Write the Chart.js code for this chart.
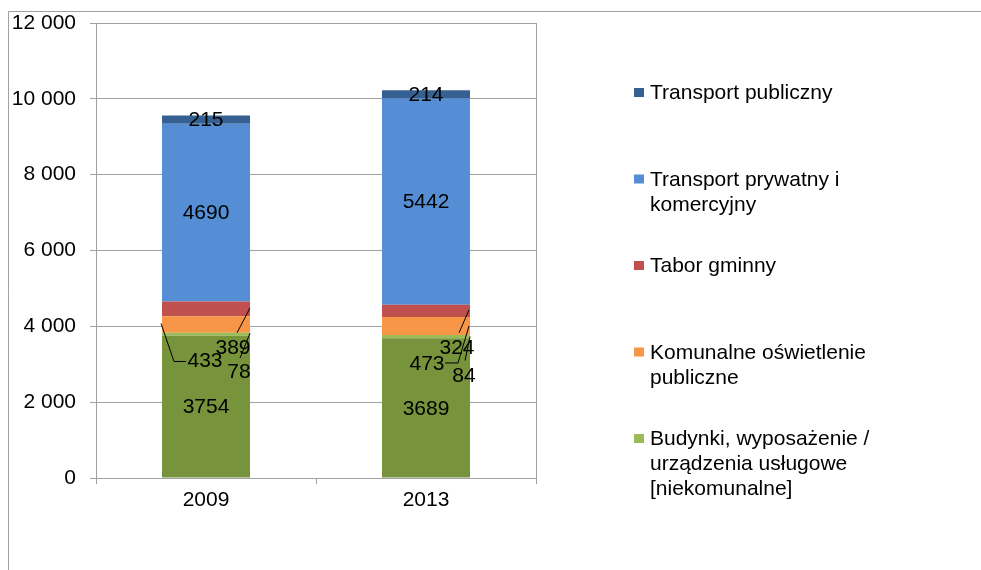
<!DOCTYPE html>
<html>
<head>
<meta charset="utf-8">
<script src="https://cdn.jsdelivr.net/npm/chart.js@4/dist/chart.umd.min.js"></script>
<style>
  html, body { margin: 0; padding: 0; background: #fff; }
  #wrap { width: 981px; height: 570px; position: relative; }
</style>
</head>
<body>
<div id="wrap"><canvas id="chartCanvas" width="981" height="570"></canvas></div>
<script>
const years = ["2009", "2013"];
const budynkiKomunalne = [3754, 3689];
const budynki = [78, 84];
const oswietlenie = [433, 473];
const tabor = [389, 324];
const transportPrywatny = [4690, 5442];
const transportPubliczny = [215, 214];
const yTicks = [0, 2000, 4000, 6000, 8000, 10000, 12000];

const FONT = "'Liberation Sans', Arial, sans-serif";

// label offsets for the thin segments (pixels from bar centre / segment middle)
const labelPlacement = {
    1: { 0: { dx: 33, dy: 38, line: [[44, -1], [34, 24]] },
         1: { dx: 38, dy: 40, line: [[44, 0], [39, 24]] } },
    2: { 0: { dx: -1, dy: 37, line: [[-45, -1], [-32, 37], [-20, 37]] },
         1: { dx: 1, dy: 38, line: [[43, 0], [32, 37], [19, 37]] } },
    3: { 0: { dx: 27, dy: 39, line: [[44, -1], [31, 24]] },
         1: { dx: 31, dy: 37, line: [[43, -1], [33, 22]] } }
};

// legend text, top to bottom, with dataset index
const legendItems = [
    { ds: 5, lines: ["Transport publiczny"] },
    { ds: 4, lines: ["Transport prywatny i", "komercyjny"] },
    { ds: 3, lines: ["Tabor gminny"] },
    { ds: 2, lines: ["Komunalne oświetlenie", "publiczne"] },
    { ds: 1, lines: ["Budynki, wyposażenie /", "urządzenia usługowe", "[niekomunalne]"] }
];

const spaced = v => String(v).replace(/\B(?=(\d{3})+(?!\d))/g, " ");

const decorPlugin = {
    id: "decor",
    beforeDraw(chart) {
        const c = chart.ctx;
        c.save();
        c.strokeStyle = "#a0a0a0";
        c.lineWidth = 1;
        c.beginPath();
        c.moveTo(8.5, 570);
        c.lineTo(8.5, 11.5);
        c.lineTo(981, 11.5);
        c.stroke();
        c.restore();
    },
    afterDatasetsDraw(chart) {
        const c = chart.ctx;
        const a = chart.chartArea;
        c.save();
        c.strokeStyle = "#a0a0a0";
        c.lineWidth = 1;
        c.beginPath();
        c.moveTo(Math.round(a.right) + 0.5, a.top);
        c.lineTo(Math.round(a.right) + 0.5, a.bottom);
        c.stroke();

        // value labels
        c.font = "21px " + FONT;
        c.fillStyle = "#000";
        c.textAlign = "center";
        c.textBaseline = "middle";
        chart.data.datasets.forEach((ds, di) => {
            const meta = chart.getDatasetMeta(di);
            meta.data.forEach((bar, i) => {
                const cx = bar.x;
                const cy = (bar.y + bar.base) / 2;
                const p = (labelPlacement[di] || {})[i];
                if (p) {
                    c.strokeStyle = "#000";
                    c.beginPath();
                    p.line.forEach((pt, k) => {
                        if (k === 0) c.moveTo(cx + pt[0], cy + pt[1]);
                        else c.lineTo(cx + pt[0], cy + pt[1]);
                    });
                    c.stroke();
                    c.fillText(String(ds.data[i]), cx + p.dx, cy + p.dy);
                } else {
                    c.fillText(String(ds.data[i]), cx, cy + 1);
                }
            });
        });

        // legend
        c.textAlign = "left";
        c.textBaseline = "alphabetic";
        legendItems.forEach((item, k) => {
            const base = 99 + k * 86.5;
            c.fillStyle = chart.data.datasets[item.ds].backgroundColor;
            c.fillRect(634, base - 11, 10, 9);
            c.fillStyle = "#000";
            item.lines.forEach((t, j) => c.fillText(t, 650, base + j * 25));
        });
        c.restore();
    }
};

const ctx = document.getElementById("chartCanvas").getContext("2d");

const chart = new Chart(ctx, {
    type: "bar",
    data: {
        labels: years,
        datasets: [
            { label: "Budynki komunalne", data: budynkiKomunalne, backgroundColor: "#77933c" },
            { label: "Budynki, wyposażenie / urządzenia usługowe [niekomunalne]", data: budynki, backgroundColor: "#9bbb59" },
            { label: "Komunalne oświetlenie publiczne", data: oswietlenie, backgroundColor: "#f79646" },
            { label: "Tabor gminny", data: tabor, backgroundColor: "#c0504d" },
            { label: "Transport prywatny i komercyjny", data: transportPrywatny, backgroundColor: "#558ed5" },
            { label: "Transport publiczny", data: transportPubliczny, backgroundColor: "#376092" }
        ]
    },
    options: {
        responsive: false,
        animation: false,
        layout: { padding: { top: 23, right: 445, left: 0, bottom: 0 } },
        datasets: { bar: { categoryPercentage: 1, barPercentage: 0.4, borderWidth: 0 } },
        plugins: { legend: { display: false }, tooltip: { enabled: false } },
        scales: {
            x: {
                stacked: true,
                grid: { offset: true, drawOnChartArea: false, color: "#a0a0a0", tickLength: 6 },
                border: { color: "#a0a0a0" },
                ticks: { color: "#000", font: { family: FONT, size: 21 }, padding: 4 },
                afterFit(scale) { scale.height = 92; }
            },
            y: {
                stacked: true,
                min: 0,
                max: 12000,
                afterBuildTicks(scale) { scale.ticks = yTicks.map(v => ({ value: v })); },
                grid: { color: "#a0a0a0", tickLength: 6 },
                border: { color: "#a0a0a0" },
                ticks: {
                    color: "#000",
                    font: { family: FONT, size: 21 },
                    padding: 14,
                    callback: v => spaced(v)
                },
                afterFit(scale) {
                    scale.width = 96;
                    scale.paddingTop = 10;
                    scale.paddingBottom = 10;
                }
            }
        }
    },
    plugins: [decorPlugin]
});
</script>
</body>
</html>
